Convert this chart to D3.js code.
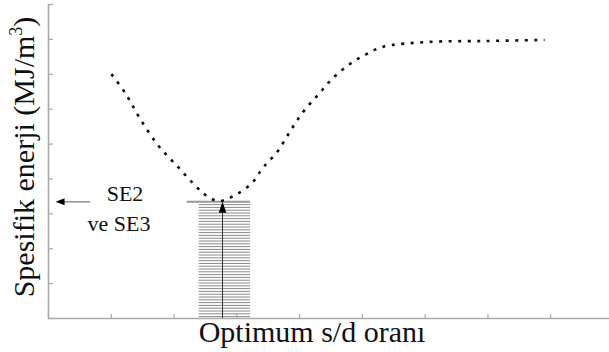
<!DOCTYPE html>
<html>
<head>
<meta charset="utf-8">
<script src="https://cdn.jsdelivr.net/npm/d3@7"></script>
<style>
  html, body { margin: 0; padding: 0; background: #fff; }
  svg { display: block; }
  text { font-family: "Liberation Serif", "Times New Roman", serif; }
</style>
</head>
<body>
<div id="chart"></div>
<script>
// tick positions (no labels on either axis)
const xTicks = [0, 1, 2, 3, 4, 5, 6, 7, 8, 9];
const yTicks = [0, 1, 2, 3, 4, 5, 6, 7, 8, 9];

// specific energy curve
const curveX = [1.01, 1.23, 1.46, 1.75, 2.07, 2.37, 2.53, 2.72, 2.98, 3.25, 3.42, 3.65, 3.85, 4.06, 4.30, 4.54, 4.81, 5.05, 5.33, 6.04, 6.99, 7.91];
const curveY = [6.99, 6.45, 5.73, 4.96, 4.33, 3.75, 3.50, 3.35, 3.52, 3.87, 4.30, 4.76, 5.33, 5.90, 6.39, 6.88, 7.28, 7.54, 7.77, 7.91, 7.94, 7.97];

// optimum s/d ratio and its energy level
const optimumX = 2.78;
const optimumY = 3.33;
const band = [2.40, 3.22];
const seLabels = ["SE2", "ve SE3"];

function chart() {
    const width = 609,
        height = 352;

    const svg = d3.select("#chart").append("svg")
        .attr("width", width)
        .attr("height", height);

    const x = d3.scaleLinear().domain([0, 9]).range([48, 613]);
    const y = d3.scaleLinear().domain([0, 9]).range([318, 4]);

    const axisColor = "#aaa";

    // hatched band below the optimum
    const hatch = svg.append("g")
        .attr("stroke", "#8a8a8a")
        .attr("stroke-width", 1);
    const top = y(optimumY), bottom = y(0);
    d3.range(top + 2.8, bottom, 2.8).forEach(py => {
        hatch.append("line")
            .attr("x1", x(band[0])).attr("x2", x(band[1]))
            .attr("y1", py).attr("y2", py);
    });
    // top edge of band, extended to the left
    svg.append("line")
        .attr("x1", x(2.21)).attr("x2", x(band[1]))
        .attr("y1", top).attr("y2", top)
        .attr("stroke", "#999")
        .attr("stroke-width", 2);

    // axes
    const xAxis = svg.append("g")
        .attr("transform", `translate(0,${y(0)})`)
        .call(d3.axisBottom(x).tickValues(xTicks).tickSizeInner(-4).tickSizeOuter(0).tickFormat(""));
    const yAxis = svg.append("g")
        .attr("transform", `translate(${x(0)},0)`)
        .call(d3.axisLeft(y).tickValues(yTicks).tickSizeInner(-5).tickSizeOuter(0).tickFormat(""));
    [xAxis, yAxis].forEach(a => {
        a.select(".domain").attr("stroke", axisColor).attr("stroke-width", 1.6);
        a.selectAll(".tick line").attr("stroke", axisColor).attr("stroke-width", 1.2);
    });

    // vertical arrow at the optimum
    svg.append("line")
        .attr("x1", x(optimumX)).attr("x2", x(optimumX))
        .attr("y1", y(0)).attr("y2", top + 8)
        .attr("stroke", "#333")
        .attr("stroke-width", 1);
    svg.append("path")
        .attr("d", `M${x(optimumX)},${top}L${x(optimumX) - 3.8},${top + 11}L${x(optimumX) + 3.8},${top + 11}Z`)
        .attr("fill", "#000");

    // left arrow pointing to the y axis
    svg.append("line")
        .attr("x1", x(0.67)).attr("x2", x(0.12) + 6)
        .attr("y1", top).attr("y2", top)
        .attr("stroke", "#888")
        .attr("stroke-width", 1.4);
    svg.append("path")
        .attr("d", `M${x(0.12)},${top}L${x(0.12) + 9},${top - 3.5}L${x(0.12) + 9},${top + 3.5}Z`)
        .attr("fill", "#000");

    // dotted curve
    const pts = curveX.map((d, i) => [d, curveY[i]]);
    svg.append("path")
        .datum(pts)
        .attr("fill", "none")
        .attr("stroke", "#111")
        .attr("stroke-width", 2.6)
        .attr("stroke-dasharray", "3,6.5")
        .attr("d", d3.line().x(d => x(d[0])).y(d => y(d[1])).curve(d3.curveCatmullRom.alpha(0.5)));

    // SE2 / ve SE3 annotation
    svg.append("text")
        .attr("x", 125).attr("y", 201)
        .attr("text-anchor", "middle")
        .attr("font-size", 22)
        .attr("fill", "#111")
        .text(seLabels[0]);
    svg.append("text")
        .attr("x", 119).attr("y", 231)
        .attr("text-anchor", "middle")
        .attr("font-size", 22)
        .attr("fill", "#111")
        .text(seLabels[1]);

    // axis titles
    svg.append("text")
        .attr("x", 312).attr("y", 342)
        .attr("text-anchor", "middle")
        .attr("font-size", 30)
        .attr("fill", "#111")
        .text("Optimum s/d oranı");

    const yt = svg.append("text")
        .attr("transform", "translate(34,157) rotate(-90)")
        .attr("text-anchor", "middle")
        .attr("font-size", 30)
        .attr("fill", "#111");
    yt.append("tspan").text("Spesifik enerji (MJ/m");
    yt.append("tspan").attr("font-size", 18).attr("dy", -12).text("3");
    yt.append("tspan").attr("dy", 12).text(")");
}

window.onload = function() {
    chart();
};
</script>
</body>
</html>
